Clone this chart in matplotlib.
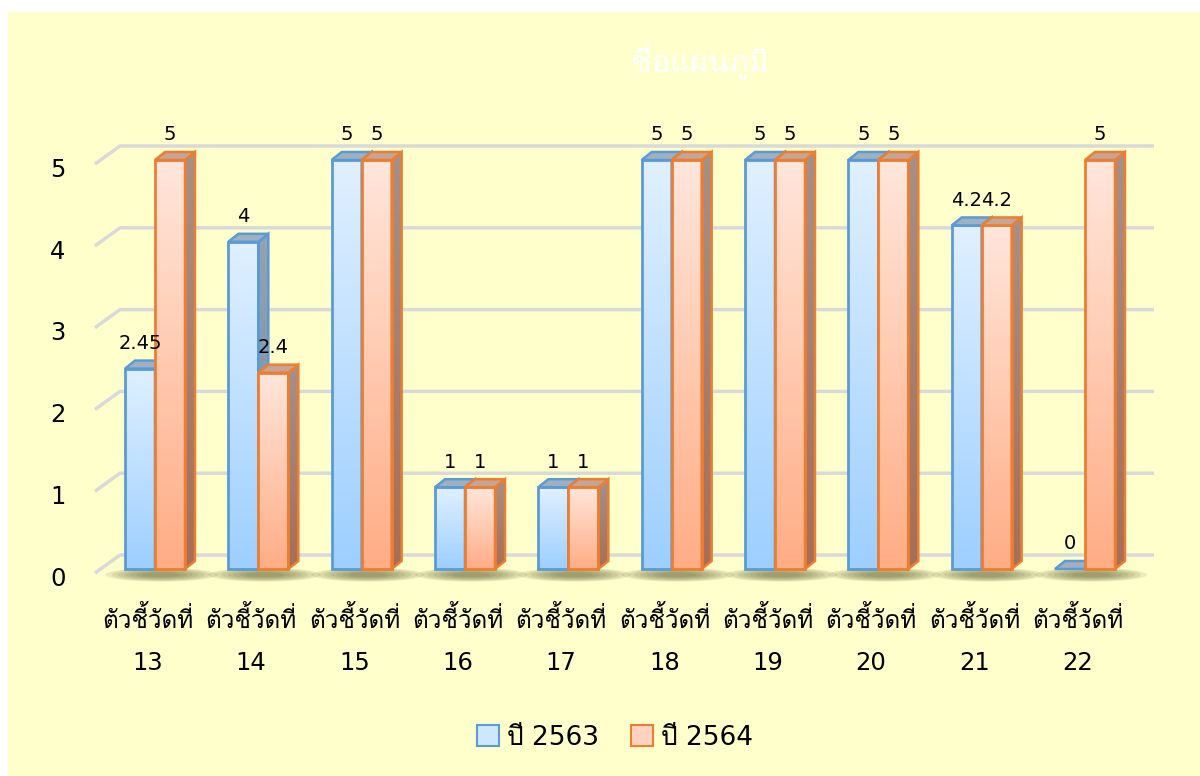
import numpy as np
import matplotlib
matplotlib.use("Agg")
import matplotlib.pyplot as plt
from matplotlib import font_manager
from matplotlib.ft2font import FT2Font
from matplotlib.patches import Polygon, Rectangle, Patch, Ellipse
from matplotlib.colors import LinearSegmentedColormap

# ---------------- data ----------------
indicators = ["13", "14", "15", "16", "17", "18", "19", "20", "21", "22"]
label_prefix = "ตัวชี้วัดที่"
values_2563 = [2.45, 4, 5, 1, 1, 5, 5, 5, 4.2, 0]
values_2564 = [5, 2.4, 5, 1, 1, 5, 5, 5, 4.2, 5]
series_names = ["ปี 2563", "ปี 2564"]
yticks = [0, 1, 2, 3, 4, 5]
chart_title = "ชื่อแผนภูมิ"


# find some installed font that has Thai glyphs
def find_thai_font():
    for fe in font_manager.fontManager.ttflist:
        try:
            if 0x0E15 in FT2Font(fe.fname).get_charmap():
                return fe.name
        except Exception:
            pass
    return None


thai = find_thai_font()
families = ["DejaVu Sans"] + ([thai] if thai else [])
plt.rcParams["font.family"] = families

# ---------------- figure ----------------
W, H = 1200, 776
fig = plt.figure(figsize=(W / 100, H / 100), dpi=100)
fig.patch.set_facecolor("white")
fig.patches.append(Rectangle((8 / W, 0), 1 - 8 / W, 1 - 12 / H,
                             transform=fig.transFigure, color="#FFFFCC",
                             zorder=-10))

ax = fig.add_axes([40 / W, (H - 600) / H, 1140 / W, 480 / H])
ax.axis("off")

# pixel scale of the original (px per category, px per unit)
pcat, punit = 103.33, 81.8
bw = 30 / pcat          # bar width
dx, dy = 10 / pcat, 8 / punit   # 3d depth offset

# back wall gridlines
for v in yticks:
    ax.plot([-0.581, -0.339, 9.668], [v - 0.05, v + 0.171, v + 0.171],
            color="#D9D9D9", lw=2.5, zorder=1, solid_capstyle="butt")
    ax.text(-0.94, v - 0.12, str(v), ha="center", va="center", fontsize=17.5)

# floor shadows
for i in range(len(indicators)):
    for k in range(7):
        s = 1 - k * 0.11
        ax.add_patch(Ellipse((i + 0.06, -0.07), 1.08 * s, 0.17 * s,
                             facecolor="#66663A", edgecolor="none",
                             alpha=0.13, zorder=2))


def grad_fill(verts, c_bottom, c_top, z):
    verts = np.array(verts)
    poly = Polygon(verts, closed=True, facecolor="none", edgecolor="none")
    ax.add_patch(poly)
    cmap = LinearSegmentedColormap.from_list("g", [c_bottom, c_top])
    grad = np.linspace(0, 1, 256).reshape(-1, 1)
    im = ax.imshow(grad, cmap=cmap, origin="lower", aspect="auto",
                   extent=[verts[:, 0].min(), verts[:, 0].max(),
                           verts[:, 1].min(), verts[:, 1].max()],
                   zorder=z, interpolation="bilinear")
    im.set_clip_path(poly)


styles = [
    dict(front=("#9DCFFF", "#E0F0FF"), side=("#6E8BA6", "#93A3B3"),
         top="#9FB0C2", edge="#5B9BD5"),
    dict(front=("#FFAD85", "#FFE6DB"), side=("#A76E55", "#A3918A"),
         top="#C4A597", edge="#ED7D31"),
]


def draw_bar(x0, h, st, z):
    x1 = x0 + bw
    if h > 0:
        front = [(x0, 0), (x1, 0), (x1, h), (x0, h)]
        side = [(x1, 0), (x1 + dx, dy), (x1 + dx, h + dy), (x1, h)]
        grad_fill(side, st["side"][0], st["side"][1], z)
        ax.add_patch(Polygon(side, closed=True, facecolor="none",
                             edgecolor=st["edge"], lw=1.8, zorder=z + 0.1))
        grad_fill(front, st["front"][0], st["front"][1], z)
        ax.add_patch(Polygon(front, closed=True, facecolor="none",
                             edgecolor=st["edge"], lw=2, zorder=z + 0.2))
    top = [(x0, h), (x0 + dx, h + dy), (x1 + dx, h + dy), (x1, h)]
    ax.add_patch(Polygon(top, closed=True, facecolor=st["top"],
                         edgecolor=st["edge"], lw=1.8, zorder=z + 0.3))


for i in range(len(indicators)):
    z = 3 + i
    draw_bar(i - bw, values_2563[i], styles[0], z)
    draw_bar(i, values_2564[i], styles[1], z + 0.5)

# data labels
for i in range(len(indicators)):
    for j, vals in enumerate([values_2563, values_2564]):
        xc = i - bw / 2 + j * bw
        ax.text(xc, vals[i] + 0.24, f"{vals[i]:g}", ha="center",
                va="baseline", fontsize=14, zorder=20)

# category labels
for i, num in enumerate(indicators):
    ax.text(i - 0.07, -0.72, label_prefix, ha="center", va="baseline",
            fontsize=17.5)
    ax.text(i - 0.07, -1.235, num, ha="center", va="baseline", fontsize=17.5)

ax.set_xlim((40 - 155) / pcat, (1180 - 155) / pcat)
ax.set_ylim((569 - 600) / punit, (569 - 120) / punit)

# title (white, as in the original)
fig.text(700 / W, 1 - 60 / H, chart_title, color="white", fontsize=22,
         ha="center", va="center")

handles = [Patch(facecolor="#CFE6FF", edgecolor="#5B9BD5", lw=1.5),
           Patch(facecolor="#FFD3C0", edgecolor="#ED7D31", lw=1.5)]
fig.legend(handles, series_names, loc="center",
           bbox_to_anchor=(615 / W, 1 - 738 / H), ncol=2, frameon=False,
           fontsize=19, handlelength=0.85, handleheight=0.85,
           handletextpad=0.3, columnspacing=1.2)

fig.savefig("out.png", dpi=100, facecolor=fig.get_facecolor())
